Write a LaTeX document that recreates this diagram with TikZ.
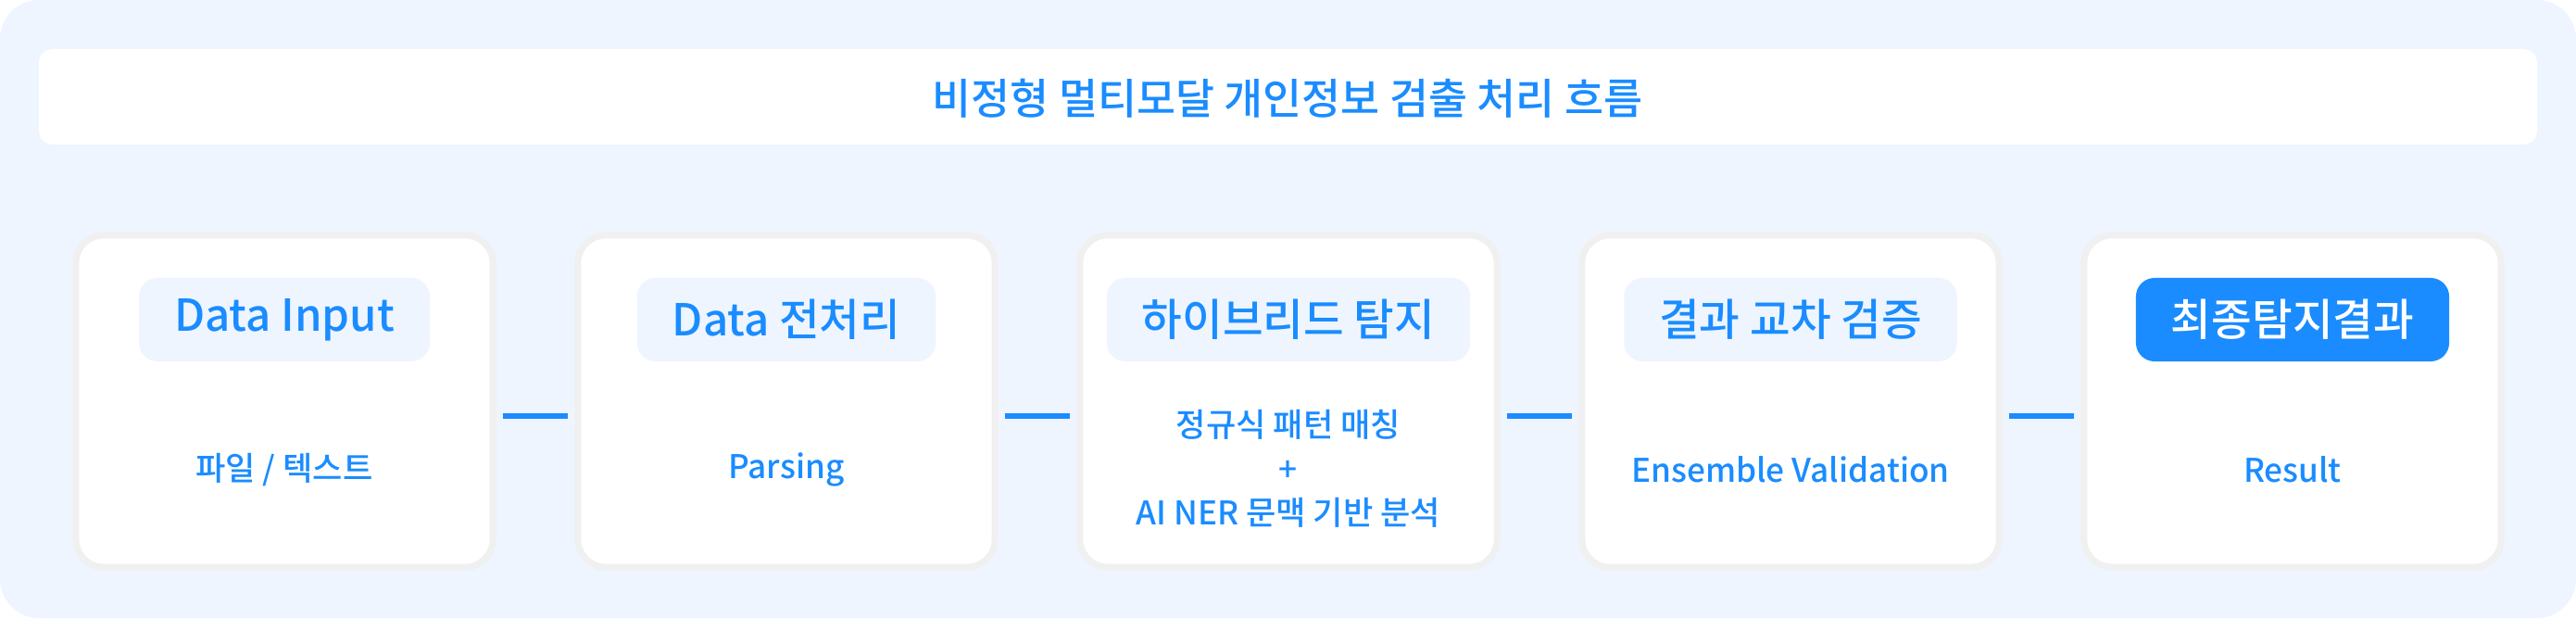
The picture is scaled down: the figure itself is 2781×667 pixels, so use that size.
\documentclass[tikz,border=0pt]{standalone}
\usepackage{fontspec}
\setmainfont{Noto Sans CJK KR}[UprightFont=* Medium]
\usetikzlibrary{positioning}
\definecolor{flowblue}{HTML}{1A8CFF}
\definecolor{paleblue}{HTML}{EEF5FE}
\definecolor{cardline}{HTML}{F0F0F0}
\tikzset{
  card/.style={fill=white,draw=cardline,line width=0.07cm,rounded corners=0.3cm,
    minimum width=4.5cm,minimum height=3.58cm},
  pill/.style={fill=paleblue,rounded corners=0.2cm,minimum height=0.9cm,inner xsep=0.38cm,
    text=flowblue,font=\fontsize{13.5}{16}\selectfont},
  sub/.style={text=flowblue,font=\fontsize{10}{13.5}\selectfont,align=center},
  link/.style={flowblue,line width=0.06cm,shorten <=0.07cm,shorten >=0.07cm}
}
\begin{document}
\begin{tikzpicture}[x=0.01cm,y=-0.01cm]
\fill[paleblue,rounded corners=0.42cm] (0,0) rectangle (2781,667);
\useasboundingbox (0,0) rectangle (2781,667);
\fill[white,rounded corners=0.15cm] (42,53) rectangle (2739,156);
\node[text=flowblue,font=\fontsize{13}{16}\selectfont] (title) at (1390,106) {비정형 멀티모달 개인정보 검출 처리 흐름};

\foreach \i/\t in {1/Data Input,2/Data 전처리,3/하이브리드 탐지,4/결과 교차 검증,5/최종탐지결과}{
  \node[card] (card\i) at ({307+542*(\i-1)},433) {};
  \node[pill] (pill\i) at ({307+542*(\i-1)},345) {\t};
}
\node[pill,fill=flowblue,text=white] at (pill5) {최종탐지결과};

\node[sub] (sub1) at (307,507) {파일 / 텍스트};
\node[sub] (sub2) at (849,507) {Parsing};
\node[sub] (sub3) at (1391,506) {정규식 패턴 매칭\\+\\AI NER 문맥 기반 분석};
\node[sub] (sub4) at (1933,507) {Ensemble Validation};
\node[sub] (sub5) at (2475,507) {Result};

\foreach \i/\j in {1/2,2/3,3/4,4/5}
  \draw[link] ([yshift=-0.16cm]card\i.east) -- ([yshift=-0.16cm]card\j.west);
\end{tikzpicture}
\end{document}
